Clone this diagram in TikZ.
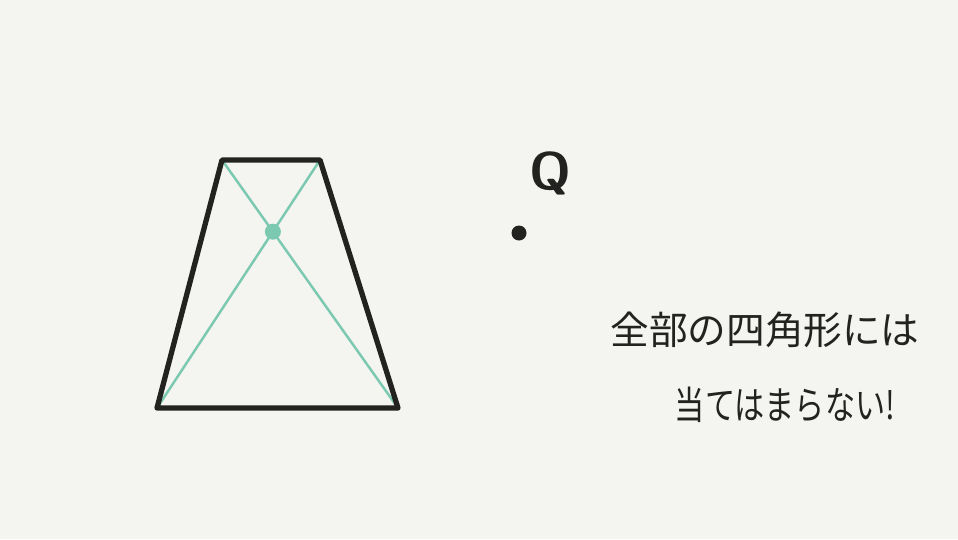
\documentclass[tikz,border=0pt]{standalone}
\usepackage{fontspec}
\newfontfamily\jpfont{Noto Sans CJK JP}
\usepackage{tikz}
\definecolor{paper}{HTML}{F4F4F0}
\definecolor{ink}{HTML}{222220}
\definecolor{teal}{HTML}{7CC9B1}
\tikzset{edge/.style={ink,line width=1.5pt,line join=round},
  diag/.style={teal,line width=0.7pt},
  note/.style={ink,font=\jpfont\fontsize{11}{13}\selectfont}}

\begin{document}
\begin{tikzpicture}
\fill[paper] (0,0) rectangle (9.58,5.39);
\useasboundingbox (0,0) rectangle (9.58,5.39);
\coordinate (A) at (2.22,3.79);
\coordinate (B) at (3.20,3.79);
\coordinate (C) at (3.98,1.31);
\coordinate (D) at (1.57,1.31);
\draw[diag] (A) -- (C);
\draw[diag] (B) -- (D);
\fill[teal] (intersection of A--C and B--D) circle (0.08);
\draw[edge] (A) -- (B) -- (C) -- (D) -- cycle;
\coordinate (P) at (5.19,3.06);
\fill[ink] (P) circle (0.075);
\node[ink,font=\sffamily\bfseries\fontsize{15}{17}\selectfont] (Q) at (5.50,3.66) {Q};
\node[note] (line1) at (7.65,2.09) {全部の四角形には};
\node[note,xscale=0.78,transform shape] (line2) at (7.85,1.34) {当てはまらない!};
\end{tikzpicture}
\end{document}
